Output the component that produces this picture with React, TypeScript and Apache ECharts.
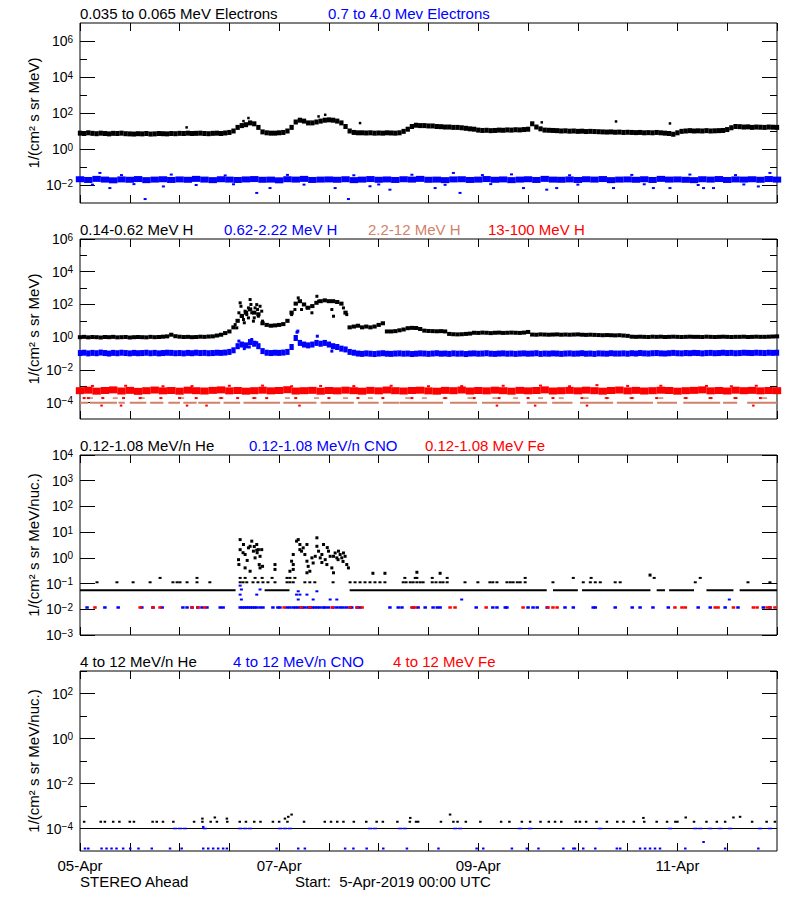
import React, { useEffect, useRef } from "react";
import * as echarts from "echarts";

const FONT = "'Liberation Sans', Arial, Helvetica, sans-serif";
const BLACK = "#000000";
const BLUE = "#0000ff";
const RED = "#ff0000";
const TAN = "#d0826a";

// ---------- time axis (hours since 5-Apr-2019 00:00 UTC) ----------
const spanHours = 168;
const dayTickHours = [0, 48, 96, 144];
const dayTickLabels = ["05-Apr", "07-Apr", "09-Apr", "11-Apr"];

// ---------- titles ----------
const panel1Titles = ["0.035 to 0.065 MeV Electrons", "0.7 to 4.0 Mev Electrons"];
const panel2Titles = ["0.14-0.62 MeV H", "0.62-2.22 MeV H", "2.2-12 MeV H", "13-100 MeV H"];
const panel3Titles = ["0.12-1.08 MeV/n He", "0.12-1.08 MeV/n CNO", "0.12-1.08 MeV Fe"];
const panel4Titles = ["4 to 12 MeV/n He", "4 to 12 MeV/n CNO", "4 to 12 MeV Fe"];
const yNameElectronsProtons = "1/(cm\u00b2 s sr MeV)";
const yNameIons = "1/(cm\u00b2 s sr MeV/nuc.)";
const footLeft = "STEREO Ahead";
const footRight = "Start:  5-Apr-2019 00:00 UTC";

// ---------- y tick values ----------
const p1Major = [1e-2, 1, 1e2, 1e4, 1e6];
const p1Minor = [1e-1, 10, 1e3, 1e5];
const p2Major = [1e-4, 1e-2, 1, 1e2, 1e4, 1e6];
const p2Minor = [1e-3, 1e-1, 10, 1e3, 1e5];
const p3Major = [1e-3, 1e-2, 1e-1, 1, 10, 100, 1e3, 1e4];
const p3Minor: number[] = [];
const p4Major = [1e-4, 1e-2, 1, 1e2];
const p4Minor = [1e-3, 1e-1, 10, 1e3];

// ================= DATA (log10 of flux) =================
// Panel 1: 0.035-0.065 MeV electrons, hourly (h = 0..168)
const e035HourlyLog = [
  0.88, 0.86, 0.9, 0.87, 0.85, 0.88, 0.86, 0.84, 0.87, 0.86, 0.88, 0.85, 0.84, 0.83, 0.85, 0.84, 0.86, 0.83, 0.84, 0.86,
  0.85, 0.84, 0.86, 0.85, 0.87, 0.86, 0.88, 0.86, 0.87, 0.88, 0.86, 0.85, 0.87, 0.88, 0.86, 0.89, 0.92,
  1.0, 1.2, 1.3, 1.35, 1.45, 1.4, 1.2, 0.95, 0.9, 0.88, 0.88, 0.9, 0.92, 1.0, 1.2, 1.5, 1.6, 1.55, 1.45, 1.45, 1.5,
  1.55, 1.6, 1.62, 1.6, 1.55, 1.45, 1.25, 1.0, 0.92, 0.9, 0.9, 0.89, 0.9, 0.88, 0.89, 0.88, 0.9, 0.89, 0.88, 0.9,
  0.98, 1.1, 1.25, 1.32, 1.3, 1.3, 1.28, 1.28, 1.25, 1.24, 1.22, 1.22, 1.2, 1.2, 1.18, 1.15, 1.12, 1.1,
  1.05, 1.03, 1.04, 1.02, 1.03, 1.05, 1.04, 1.06, 1.05, 1.07, 1.06, 1.08, 1.1,
  1.4, 1.22, 1.12,
  1.05, 1.04, 1.03, 1.02, 1.0, 1.01, 0.99, 1.0, 0.98, 0.99, 0.97, 0.98, 0.97, 0.96,
  0.95, 0.94, 0.95, 0.93, 0.94, 0.92, 0.93, 0.92, 0.91, 0.92, 0.9, 0.91, 0.9, 0.92, 0.9, 0.88, 0.86,
  0.82, 0.9,
  0.98, 1.0, 1.02, 1.0, 1.01, 1.0, 1.02, 1.0, 1.01, 1.02, 1.03,
  1.08, 1.18, 1.25, 1.24, 1.22, 1.23, 1.2, 1.22, 1.21, 1.2, 1.22, 1.21, 1.2,
];
const e035OutliersLog = [
  [25.7, 1.2], [39.4, 1.55], [40.6, 1.72], [57.5, 1.81], [59.1, 1.9], [67.5, 1.44],
  [111.3, 1.48], [129.2, 1.53], [142.2, 1.42],
];
// Panel 1: 0.7-4.0 MeV electrons, every 2 hours (h = 0,2,..,168)
const e07TwoHourLog = [
  -1.68, -1.72, -1.66, -1.7, -1.74, -1.69, -1.71, -1.67, -1.73, -1.7,
  -1.68, -1.72, -1.69, -1.71, -1.66, -1.7, -1.73, -1.68, -1.7, -1.72,
  -1.69, -1.67, -1.71, -1.7, -1.74, -1.68, -1.7, -1.66, -1.72, -1.7,
  -1.69, -1.71, -1.68, -1.73, -1.7, -1.67, -1.71, -1.69, -1.72, -1.68,
  -1.7, -1.66, -1.71, -1.7, -1.73, -1.69, -1.68, -1.72, -1.7, -1.67,
  -1.71, -1.69, -1.73, -1.7, -1.68, -1.72, -1.66, -1.7, -1.71, -1.69,
  -1.72, -1.68, -1.7, -1.67, -1.73, -1.7, -1.69, -1.71, -1.68, -1.72,
  -1.66, -1.7, -1.69, -1.71, -1.73, -1.68, -1.7, -1.67, -1.72, -1.69,
  -1.7, -1.68, -1.71, -1.67, -1.7,
];
const e07OutliersLog = [
  [4.8, -1.33], [7.2, -2.17], [15.7, -2.78], [20.1, -2.08], [42.6, -2.44], [45.8, -2.17], [61.5, -2.17],
  [64.7, -2.78], [69.9, -2.07], [74.7, -2.26], [85.6, -2.17], [90, -1.33], [91.6, -2.44], [106.9, -2.17],
  [112.5, -2.26], [114.9, -2.17], [128.6, -2.17], [138.2, -2.17], [142.2, -2.17], [150.3, -2.17],
  [152.7, -2.17], [163.5, -2.08], [166.3, -1.33],
  [10, -1.45], [22, -1.42], [35, -1.47], [50, -1.44], [66, -1.46], [80, -1.43], [97, -1.45], [104, -1.41],
  [118, -1.46], [133, -1.44], [147, -1.42], [158, -1.45],
  [3, -1.98], [13, -1.95], [28, -2.0], [37, -1.96], [54, -1.98], [72, -1.97], [88, -1.99], [99, -1.95],
  [120, -1.98], [136, -1.96], [149, -2.0], [160, -1.97],
];

// Panel 2: 0.14-0.62 MeV H, hourly
const h014HourlyLog = [
  0.0, 0.02, -0.01, 0.01, 0.0, -0.02, 0.01, 0.0, 0.02, -0.01, 0.0, 0.01, -0.02, 0.0, 0.01, 0.0, -0.01, 0.02, 0.0, 0.01,
  0.03, 0.05, 0.15, 0.06, 0.03, 0.01, 0.02, 0.0, 0.01, 0.03, 0.02, 0.04,
  0.05, 0.1, 0.15, 0.25, 0.35, 0.6,
  1.0, 1.3, 1.5, 1.7, 1.5, 1.4, 0.85,
  0.75, 0.7, 0.72, 0.75, 0.8,
  1.0, 1.5, 2.05, 2.2, 2.0, 1.8, 1.9, 2.1, 2.2, 2.25, 2.2, 2.2, 2.15, 2.05, 1.5, 0.6,
  0.65, 0.7, 0.6, 0.65, 0.6, 0.65, 0.75, 0.85,
  0.35, 0.35, 0.37, 0.42, 0.47, 0.55, 0.57, 0.56, 0.5, 0.4, 0.38, 0.37, 0.36, 0.37, 0.35,
  0.2, 0.18, 0.17, 0.18, 0.2, 0.22,
  0.27, 0.26, 0.28, 0.27, 0.25, 0.27, 0.28, 0.26, 0.27, 0.28, 0.27, 0.26, 0.28, 0.32,
  0.16, 0.15, 0.17, 0.16, 0.15, 0.16, 0.17, 0.15, 0.16, 0.15, 0.16, 0.17, 0.15, 0.14, 0.15, 0.14,
  0.13, 0.12, 0.13, 0.12, 0.11, 0.12, 0.1, 0.08,
  0.03, 0.02, 0.03, 0.02, 0.01, 0.03, 0.02, 0.03, 0.01, 0.02, 0.03, 0.02, 0.01, 0.02, 0.03, 0.02, 0.02, 0.01,
  0.03, 0.02, 0.01, 0.02, 0.03, 0.02, 0.01, 0.02, 0.02, 0.03, 0.01, 0.02, 0.03, 0.02, 0.02, 0.03, 0.04, 0.05,
];
const h014EventLog = [
  [37.4, 0.77], [37.8, 0.57], [38.3, 1.49], [38.6, 2.1], [38.8, 1.89], [39.0, 1.28], [39.4, 1.08], [39.6, 0.88],
  [39.8, 1.59], [40.2, 1.38], [40.6, 1.18], [40.6, 1.79], [41.0, 2.3], [41.2, 2.0], [41.4, 1.49], [41.8, 0.98],
  [42.0, 1.18], [42.2, 1.79], [42.6, 1.99], [42.8, 1.69], [43.0, 1.28], [43.4, 1.89], [43.8, 1.59], [44.0, 0.98],
  [51.0, 1.38], [51.8, 1.69], [52.6, 2.4], [53.4, 1.69], [54.7, 1.79], [55.9, 1.49], [57.1, 2.5], [57.5, 2.2],
  [60.7, 1.69], [61.1, 1.28], [63.5, 1.79], [64.3, 1.38],
];
// Panel 2: 0.62-2.22 MeV H, hourly
const h062HourlyLog = [
  -0.97, -0.95, -0.99, -0.96, -0.98, -0.94, -0.97, -1.0, -0.96, -0.98, -0.95, -0.97, -0.99, -0.96, -0.98, -0.97,
  -0.95, -0.98, -0.96, -0.99, -0.97, -0.95, -0.96, -0.98, -0.97, -0.99, -0.96, -0.98, -0.95, -0.97, -0.96, -0.98,
  -0.97, -0.95, -0.96, -0.94, -0.9, -0.8,
  -0.55, -0.45, -0.5, -0.3, -0.4, -0.55, -0.85,
  -0.95, -0.97, -0.95, -0.96, -0.94, -0.9,
  -0.6, -0.05, -0.35, -0.45, -0.5, -0.45, -0.35, -0.4, -0.35, -0.45, -0.55, -0.6, -0.7, -0.75, -0.9, -0.95,
  -1.0, -1.02, -0.99, -1.01, -1.03, -1.0, -0.98, -1.01, -1.02, -1.0,
  -0.99, -1.01, -1.0, -1.03, -1.01, -0.99, -1.0, -1.02, -1.0, -0.98,
  -1.01, -1.0, -1.02, -0.99, -1.01, -1.0, -1.03, -1.0, -0.99, -1.01,
  -1.0, -0.98, -1.01, -1.02, -1.0, -0.99, -1.01, -1.0, -1.02, -1.0,
  -0.99, -1.01, -1.0, -0.98, -1.02, -1.0, -1.01, -0.99, -1.0, -1.02,
  -1.0, -0.99, -1.01, -1.0, -0.98, -1.01, -1.0, -1.02, -0.99, -1.0,
  -1.01, -0.98, -1.0, -1.0, -0.99, -1.01, -0.98, -1.0, -0.97, -0.99,
  -1.0, -0.98, -0.97, -0.99, -1.0, -0.98, -0.96, -0.98, -0.99, -0.97,
  -0.98, -0.96, -0.97, -0.99, -0.97, -0.96, -0.98, -0.97, -0.95, -0.97,
  -0.96, -0.98, -0.97, -0.95, -0.96, -0.97, -0.95, -0.96, -0.97, -0.95,
  -0.96, -0.95,
];
const h062EventLog = [
  [38.3, -0.24], [39.6, -0.7], [40.8, -0.6], [41.4, -0.14], [42.6, -0.34], [52.3, 0.3], [52.5, 0.37],
  [57.2, 0.06], [60.7, -0.85],
];
// Panel 2: 13-100 MeV H, every 2 hours
const h13TwoHourLog = [
  -3.27, -3.24, -3.3, -3.26, -3.22, -3.29, -3.25, -3.31, -3.27, -3.23,
  -3.28, -3.26, -3.3, -3.24, -3.27, -3.29, -3.25, -3.22, -3.28, -3.26,
  -3.3, -3.27, -3.24, -3.28, -3.26, -3.21, -3.29, -3.27, -3.25, -3.3,
  -3.26, -3.28, -3.24, -3.27, -3.3, -3.25, -3.28, -3.23, -3.27, -3.29,
  -3.26, -3.24, -3.28, -3.3, -3.25, -3.27, -3.23, -3.29, -3.26, -3.28,
  -3.24, -3.27, -3.3, -3.25, -3.28, -3.26, -3.22, -3.29, -3.27, -3.25,
  -3.28, -3.24, -3.27, -3.3, -3.26, -3.23, -3.28, -3.25, -3.29, -3.27,
  -3.24, -3.26, -3.3, -3.27, -3.25, -3.22, -3.28, -3.26, -3.29, -3.24,
  -3.27, -3.25, -3.28, -3.26, -3.27,
];
const h13HighLog = [
  [3, -2.98], [11, -2.97], [20, -3.0], [27, -2.99], [36, -2.97], [44, -2.96], [51, -3.0], [58, -2.98],
  [66, -2.99], [75, -2.97], [84, -3.0], [92, -2.99], [102, -2.97], [111, -2.96], [118, -3.0], [124.6, -2.93],
  [132, -2.98], [140, -2.97], [151, -2.98], [157, -3.0], [163, -2.97],
];
const h13LowRowLevel = -3.72;
const h13LowRowHours = [1, 2, 5.5, 10.5, 14.5, 19.5, 24, 28, 34, 38, 42, 45, 52, 60, 67, 73, 80, 88, 95, 101, 108, 114,
  121, 127, 133, 139, 146, 152, 158, 164];
const h13LowestLevel = -4.18;
const h13LowestHours = [5.2, 9.9, 25.8, 30.5, 52.9, 100.5, 109.7, 122.2, 162.3];
// Panel 2: 2.2-12 MeV H
const h22FloorLevel = -4.0;
const h22FloorSegments = [
  [0, 2], [2.4, 8.9], [9.3, 10.8], [12, 16], [16.9, 20.1], [21.3, 24.1], [24.9, 28.1], [28.5, 33.8], [34.6, 38.6],
  [39.4, 48.2], [49, 57], [58, 66], [67, 72], [73, 77], [77.1, 87.5], [89.2, 95.7], [96.9, 106.1], [107.7, 112.6],
  [113.8, 118.7], [120.5, 128.5], [129.4, 138.1], [139.1, 143.9], [145.4, 154.3], [155, 158.4], [160.8, 168],
];
const h22RowLevel = -3.72;
const h22RowHours = [2.5, 8.5, 15, 24.5, 34, 42, 50, 57, 64, 70, 79, 83, 88, 94, 100, 105, 111, 116, 122, 127, 133,
  140, 146, 152, 158, 165];

// Panel 3: 0.12-1.08 MeV/n He
const he012BaseLevel = -1.26;
const he012BaseSegments = [[0, 37.5], [44.5, 50.5], [65, 112.5], [114, 120], [121, 137.5], [139, 141], [142, 148],
  [151, 157.5], [159, 168]];
const he012Row2Level = -0.95;
const he012Row2Hours = [4.1, 8.9, 12.8, 16.9, 22.4, 23.4, 24.1, 25.8, 28.2, 31.3, 38.6, 39.3, 40.2, 41.7, 42.9, 44.1,
  45.3, 47.0, 49.9, 50.6, 51.4, 54.2, 55.4, 56.6, 61.0, 65.1, 66.3, 67.5, 68.7, 69.9, 71.1, 72.3, 73.5, 77.9, 78.6,
  79.6, 80.3, 81.2, 82.0, 82.7, 84.9, 85.8, 86.8, 87.5, 88.5, 92.8, 95.9, 98.8, 99.5, 100.5, 102.9, 103.7, 104.4,
  105.4, 106.1, 107.3, 114.0, 121.3, 123.0, 124.2, 125.4, 129.0, 130.2, 148.3, 161.0, 166.3];
const he012Row3Level = -0.78;
const he012Row3Hours = [19.3, 28.2, 38.6, 39.8, 42.2, 43.9, 46.3, 49.9, 50.6, 51.8, 78.3, 80.8, 81.2, 84.9, 88.5,
  107.3, 118.9, 123.2, 138.4, 149.5];
const he012EventLog = [
  [38.6, 0.71], [38.6, 0.32], [38.2, -0.07], [38.3, -0.26], [39.3, 0.2], [39.4, 0.52], [39.8, 0.13], [39.8, -0.39],
  [40.3, -0.1], [40.6, 0.39], [41.0, 0.45], [41.0, -0.52], [41.4, 0.65], [41.8, 0.26], [42.0, 0.44], [42.2, 0.0],
  [42.6, 0.52], [42.6, 0.3], [42.7, 0.2], [43.0, 0.32], [43.2, -0.26], [43.4, 0.06], [43.4, -0.39], [43.8, 0.32],
  [44.0, -0.33], [47.0, -0.26], [47.0, -0.45],
  [50.6, -0.52], [51.0, -0.13], [51.4, 0.13], [51.4, -0.26], [51.4, -0.45], [52.2, 0.65], [52.6, 0.71], [53.0, 0.32],
  [53.0, 0.52], [53.4, 0.26], [53.8, 0.39], [54.2, 0.13], [54.7, 0.52], [54.7, -0.13], [54.7, -0.58], [55.0, -0.33],
  [55.4, -0.52], [55.9, 0.0], [56.2, -0.2], [56.7, 0.06], [57.1, 0.78], [57.1, 0.45], [57.5, 0.26], [57.9, 0.0],
  [58.3, 0.13], [58.3, -0.18], [58.7, 0.52], [59.1, -0.07], [59.5, -0.26], [59.6, 0.4], [59.9, 0.26], [60.3, 0.06],
  [60.7, -0.39], [61.1, -0.58], [61.1, 0.06], [61.5, 0.19], [61.9, 0.0], [62.2, -0.07], [62.3, 0.26], [62.7, 0.13],
  [63.1, 0.0], [63.4, -0.14], [63.5, 0.19], [63.9, 0.06], [64.3, -0.26], [64.7, -0.39],
  [70.6, -0.6], [73.5, -0.6], [81.2, -0.56], [86.8, -0.6], [137.4, -0.67],
];
// Panel 3: 0.12-1.08 MeV/n CNO and Fe
const cno012RowLevel = -1.93;
const cno012RowHours = [1.7, 6.0, 9.2, 14.9, 17.6, 19.8, 24.8, 25.8, 27.0, 28.4, 29.4, 30.6, 33.8, 34.5,
  38.6, 39.1, 39.6, 40.1, 40.6, 41.1, 41.6, 42.1, 42.6, 43.4, 44.1, 46.5, 47.7, 48.2, 49.9, 50.6, 51.4, 52.0, 52.6,
  53.5, 54.2, 55.0, 55.4, 56.0, 56.6, 57.2, 57.8, 58.6, 59.1, 59.9, 61.0, 61.9, 62.7, 63.4, 64.2, 65.1, 65.5, 66.8,
  67.5, 74.7, 76.7, 77.6, 80.3, 81.5, 83.2, 85.1, 86.1, 86.8, 95.5, 99.5, 100.5, 102.5, 102.9, 108.0, 109.2, 110.2,
  112.6, 116.9, 118.9, 123.7, 124.2, 129.0, 133.1, 135.0, 138.1, 141.8, 149.0, 151.9, 155.5, 158.6, 164.7, 166.3];
const cno012EventLog = [
  [38.6, -1.08], [38.9, -1.23], [38.6, -1.43], [38.9, -1.62], [43.4, -1.23], [42.6, -1.43], [52.6, -1.3],
  [52.2, -1.43], [53.0, -1.43], [54.7, -1.43], [57.1, -1.3], [52.6, -1.62], [56.2, -1.62], [60.3, -1.62],
  [61.9, -1.62], [92.0, -1.62], [156.5, -1.62],
];
const fe012RowLevel = -1.93;
const fe012RowHours = [3.6, 14.5, 17.6, 19.3, 27.0, 28.4, 30.1, 49.2, 53.3, 55.4, 60.8, 65.1, 66.8, 68.0, 80.0, 80.8,
  89.2, 90.4, 97.9, 106.8, 112.8, 114.0, 115.0, 143.4, 145.1, 145.9, 153.1, 153.8, 157.5, 162.3, 163.2, 165.6,
  166.3, 167.5];

// Panel 4: 4-12 MeV/n He, CNO
const he4FloorLevel = -4.0;
const he4FloorSegments = [[0, 168]];
const he4RowLevel = -3.7;
const he4RowHours = [1, 5, 6, 8, 9.5, 12, 13, 17.5, 18.5, 20, 22.5, 27.5, 29.5, 31.5, 33, 35.5, 38.5, 40, 42, 43.5,
  46.5, 48, 50, 54, 59, 60.5, 62, 63.5, 66, 69, 71.5, 73, 76.5, 79.5, 81, 81.5, 87, 90, 91, 93, 96.5, 101.5, 103.5,
  106.5, 108.5, 111, 113, 114.5, 116, 119.5, 120.5, 122, 124.5, 127, 129.5, 131, 133.5, 136, 139, 141.5, 143.5, 144,
  148, 151, 153.5, 155.5, 162, 165.5, 167.5];
const he4HighLog = [[29.5, -3.56], [32.5, -3.51], [35.4, -3.56], [49.4, -3.56], [50.2, -3.48], [51.0, -3.38],
  [79.6, -3.53], [89.2, -3.38], [135.8, -3.53], [146, -3.51], [157.5, -3.51], [159.1, -3.48]];
const cno4FloorLevel = -4.0;
const cno4FloorHours = [22.9, 24.1, 25.3, 30.1, 38.6, 39.8, 41, 48.2, 49.4, 50.6, 69.9, 71.1, 77.1, 78.3, 90.4, 91.6,
  106, 108.5, 125.4, 142.2, 148.3, 149.5, 151.9, 154.3, 156.7, 163.9, 166.3];
const cno4RowLevel = -4.89;
const cno4RowHours = [1.2, 2.0, 5.2, 6.4, 7.6, 8.8, 10.4, 12.1, 14.1, 17.3, 21.7, 24.5, 29.7, 30.9, 32.1, 33.3, 34.5,
  35.4, 47.4, 52.6, 54.2, 63.9, 65.9, 69.1, 73.1, 78.8, 86.4, 95.6, 97.2, 104.1, 107.7, 110.5, 116.5, 118.9, 119.3,
  121.3, 124.2, 129.4, 130.2, 135.0, 136.2, 137.4, 138.6, 139.8, 145.9, 155.5, 163.5];
const cno4ExtraLog = [[29.7, -3.93], [150.3, -4.6]];

// ================= helpers =================
const toVal = (L: number) => Math.pow(10, L);
const hourly = (arr: number[]) => arr.map((L, h) => [h, toVal(L)]);
const everyTwoHours = (arr: number[]) => arr.map((L, i) => [2 * i, toVal(L)]);
const atLevel = (hours: number[], L: number) => hours.map((h) => [h, toVal(L)]);
const pairs = (list: number[][]) => list.map(([h, L]) => [h, toVal(L)]);
const segments = (segs: number[][], L: number) =>
  segs.flatMap(([a, b]) => [[a, toVal(L)], [b, toVal(L)], [b, "-"]]);

// ================= layout =================
const GRID_LEFT = 80;
const GRID_WIDTH = 697;
const GRID_HEIGHT = 180;
const panels = [
  { top: 23, min: 1e-3, max: 1e7, major: p1Major, minor: p1Minor, titleY: 13.5, titleX: [80, 328],
    titles: panel1Titles, colors: [BLACK, BLUE], yName: yNameElectronsProtons },
  { top: 239, min: 1e-5, max: 1e6, major: p2Major, minor: p2Minor, titleY: 229.5, titleX: [80, 224, 368, 488],
    titles: panel2Titles, colors: [BLACK, BLUE, TAN, RED], yName: yNameElectronsProtons },
  { top: 455, min: 1e-3, max: 1e4, major: p3Major, minor: p3Minor, titleY: 445, titleX: [80, 249, 425],
    titles: panel3Titles, colors: [BLACK, BLUE, RED], yName: yNameIons },
  { top: 671, min: 1e-5, max: 1e3, major: p4Major, minor: p4Minor, titleY: 661, titleX: [80, 233, 393],
    titles: panel4Titles, colors: [BLACK, BLUE, RED], yName: yNameIons },
];

const expLabel = (v: number) => {
  const e = Math.round(Math.log10(v));
  return `{b|10}{e|${e < 0 ? "\u2212" + -e : e}}`;
};
const labelRich = {
  b: { fontSize: 14, fontFamily: FONT, color: BLACK, verticalAlign: "middle", lineHeight: 14 },
  e: { fontSize: 10, fontFamily: FONT, color: BLACK, verticalAlign: "top", lineHeight: 10, padding: [0, 0, 12, 0] },
};

function buildOption() {
  const grid = panels.map((p) => ({
    left: GRID_LEFT, width: GRID_WIDTH, top: p.top, height: GRID_HEIGHT,
    show: true, borderColor: BLACK, borderWidth: 1, backgroundColor: "transparent",
    containLabel: false, outerBoundsMode: "none",
  }));

  const xAxis: any[] = [];
  panels.forEach((p, g) => {
    ["bottom", "top"].forEach((pos) => {
      const showLabels = g === 3 && pos === "bottom";
      xAxis.push({
        type: "value", gridIndex: g, position: pos, min: 0, max: spanHours, interval: 12,
        axisLine: { show: false },
        splitLine: { show: false },
        axisTick: { show: true, inside: true, length: 8, lineStyle: { color: BLACK, width: 1 } },
        axisLabel: {
          show: showLabels, margin: 7, color: BLACK, fontSize: 15, fontFamily: FONT,
          showMinLabel: true, showMaxLabel: false,
          formatter: (v: number) => {
            const i = dayTickHours.indexOf(v);
            return i >= 0 ? dayTickLabels[i] : "";
          },
        },
      });
    });
  });

  const yAxis: any[] = [];
  panels.forEach((p, g) => {
    const base = {
      type: "log", logBase: 10, gridIndex: g, min: p.min, max: p.max,
      axisLine: { show: false }, splitLine: { show: false }, minorTick: { show: false },
    };
    yAxis.push({
      ...base, position: "left",
      axisTick: { show: true, inside: true, length: 15, customValues: p.major, lineStyle: { color: BLACK } },
      axisLabel: {
        show: true, customValues: p.major, formatter: expLabel, margin: 7, rich: labelRich,
        showMinLabel: true, showMaxLabel: true, hideOverlap: false,
      },
    });
    yAxis.push({
      ...base, position: "left",
      axisTick: { show: p.minor.length > 0, inside: true, length: 7, customValues: p.minor, lineStyle: { color: BLACK } },
      axisLabel: { show: false },
    });
    yAxis.push({
      ...base, position: "right",
      axisTick: { show: true, inside: true, length: 15, customValues: p.major, lineStyle: { color: BLACK } },
      axisLabel: { show: false },
    });
    yAxis.push({
      ...base, position: "right",
      axisTick: { show: p.minor.length > 0, inside: true, length: 7, customValues: p.minor, lineStyle: { color: BLACK } },
      axisLabel: { show: false },
    });
  });

  const scat = (g: number, data: any[], color: string, size: number[], z = 2) => ({
    type: "scatter", xAxisIndex: 2 * g, yAxisIndex: 4 * g, data, symbol: "rect", symbolSize: size,
    itemStyle: { color, opacity: 1 }, silent: true, z, clip: true,
  });
  const segLine = (g: number, data: any[], color: string, width: number, z = 2) => ({
    type: "line", xAxisIndex: 2 * g, yAxisIndex: 4 * g, data, symbol: "none", showSymbol: false,
    connectNulls: false, lineStyle: { color, width }, silent: true, z,
  });

  const series: any[] = [
    // panel 1
    scat(0, everyTwoHours(e07TwoHourLog), BLUE, [8.4, 6]),
    scat(0, pairs(e07OutliersLog), BLUE, [3, 2]),
    scat(0, hourly(e035HourlyLog), BLACK, [4.3, 5]),
    scat(0, pairs(e035OutliersLog), BLACK, [2.5, 2.5]),
    // panel 2
    segLine(1, segments(h22FloorSegments, h22FloorLevel), TAN, 2),
    scat(1, atLevel(h22RowHours, h22RowLevel), TAN, [5, 1.5]),
    scat(1, everyTwoHours(h13TwoHourLog), RED, [8.4, 7]),
    scat(1, pairs(h13HighLog), RED, [3, 2]),
    scat(1, atLevel(h13LowRowHours, h13LowRowLevel), RED, [3, 2]),
    scat(1, atLevel(h13LowestHours, h13LowestLevel), RED, [2.5, 2]),
    scat(1, hourly(h062HourlyLog), BLUE, [4.3, 6]),
    scat(1, pairs(h062EventLog), BLUE, [3, 3]),
    scat(1, hourly(h014HourlyLog), BLACK, [4.3, 4]),
    scat(1, pairs(h014EventLog), BLACK, [3, 3]),
    // panel 3
    segLine(2, segments(he012BaseSegments, he012BaseLevel), BLACK, 2),
    scat(2, atLevel(he012Row2Hours, he012Row2Level), BLACK, [3, 2]),
    scat(2, atLevel(he012Row3Hours, he012Row3Level), BLACK, [3, 2]),
    scat(2, pairs(he012EventLog), BLACK, [3, 3]),
    scat(2, atLevel(cno012RowHours, cno012RowLevel), BLUE, [3.5, 2.5]),
    scat(2, pairs(cno012EventLog), BLUE, [3, 2]),
    scat(2, atLevel(fe012RowHours, fe012RowLevel), RED, [3.5, 2.5]),
    // panel 4
    segLine(3, segments(he4FloorSegments, he4FloorLevel), BLACK, 1),
    scat(3, atLevel(cno4FloorHours, cno4FloorLevel), BLUE, [4, 1.5]),
    scat(3, atLevel(he4RowHours, he4RowLevel), BLACK, [2.5, 2]),
    scat(3, pairs(he4HighLog), BLACK, [2.5, 2]),
    scat(3, atLevel(cno4RowHours, cno4RowLevel), BLUE, [2.5, 2]),
    scat(3, pairs(cno4ExtraLog), BLUE, [2.5, 2]),
  ];

  const graphic: any[] = [];
  panels.forEach((p) => {
    p.titles.forEach((t, i) => {
      graphic.push({
        type: "text", x: p.titleX[i], y: p.titleY, silent: true,
        style: { text: t, fill: p.colors[i], fontSize: 15, fontFamily: FONT, align: "left", verticalAlign: "middle" },
      });
    });
    graphic.push({
      type: "text", x: 33, y: p.top + GRID_HEIGHT / 2, rotation: Math.PI / 2, silent: true,
      style: { text: p.yName, fill: BLACK, fontSize: 15, fontFamily: FONT, align: "center", verticalAlign: "middle" },
    });
  });
  graphic.push({
    type: "text", x: 80, y: 881, silent: true,
    style: { text: footLeft, fill: BLACK, fontSize: 15, fontFamily: FONT, align: "left", verticalAlign: "middle" },
  });
  graphic.push({
    type: "text", x: 295, y: 881, silent: true,
    style: { text: footRight, fill: BLACK, fontSize: 15, fontFamily: FONT, align: "left", verticalAlign: "middle" },
  });

  return {
    animation: false,
    backgroundColor: "#ffffff",
    grid, xAxis, yAxis, series, graphic,
  };
}

export default function App() {
  const ref = useRef<HTMLDivElement>(null);
  useEffect(() => {
    if (!ref.current) return;
    const chart = echarts.init(ref.current, null, { renderer: "svg" });
    chart.setOption(buildOption() as any);
    return () => chart.dispose();
  }, []);
  return (
    <div
      ref={ref}
      style={{ position: "absolute", left: 0, top: 0, width: 800, height: 900, background: "#fff" }}
    />
  );
}
